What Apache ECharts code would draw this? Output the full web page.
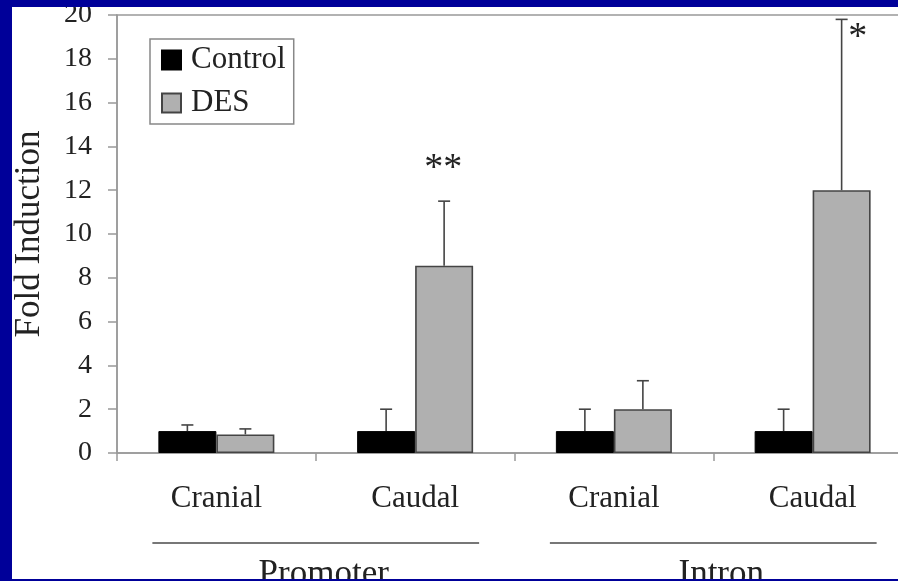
<!DOCTYPE html>
<html>
<head>
<meta charset="utf-8">
<script src="https://cdn.jsdelivr.net/npm/echarts@6/dist/echarts.min.js"></script>
<style>
  html, body { margin: 0; padding: 0; background: #000099; width: 898px; height: 581px; overflow: hidden; }
  #chart { position: absolute; left: 12px; top: 7px; width: 886px; height: 572px; background: #ffffff; }
</style>
</head>
<body>
<div id="chart"></div>
<script>
// ---- data ----
const categories = ['Cranial', 'Caudal', 'Cranial', 'Caudal'];
const groupNames = ['Promoter', 'Intron'];
const groupSpans = [[0, 1], [2, 3]];
const controlValues = [1.0, 1.0, 1.0, 1.0];
const controlErr = [0.28, 1.0, 1.0, 1.0];
const desValues = [0.85, 8.55, 2.0, 12.0];
const desErr = [0.25, 2.95, 1.3, 7.8];
const significance = ['', '**', '', '*'];
const yMin = 0, yMax = 20, yInterval = 2;

// ---- style ----
const FONT = '"Liberation Serif", "Times New Roman", serif';
const TEXT = '#222222';
const AXIS = '#999999';
const BAR_W = 58;
const sigOffsets = [[0, 0], [-1, -32], [0, 0], [16, 19]];

const chart = echarts.init(document.getElementById('chart'));

function errorSeries(name, values, errs, sign, withSig) {
  return {
    type: 'custom',
    name: name + ' err',
    silent: true,
    clip: false,
    z: 5,
    data: values.map((v, i) => [i, v, errs[i]]),
    renderItem: function (params, api) {
      const i = params.dataIndex;
      const base = api.coord([api.value(0), api.value(1)]);
      const top = api.coord([api.value(0), api.value(1) + api.value(2)]);
      const x = base[0] + sign * BAR_W / 2;
      const children = [
        { type: 'line', shape: { x1: x, y1: base[1], x2: x, y2: top[1] }, style: { stroke: '#444', lineWidth: 1.6 } },
        { type: 'line', shape: { x1: x - 6, y1: top[1], x2: x + 6, y2: top[1] }, style: { stroke: '#444', lineWidth: 1.6 } }
      ];
      if (withSig && significance[i]) {
        children.push({
          type: 'text',
          style: {
            text: significance[i], x: x + sigOffsets[i][0], y: top[1] + sigOffsets[i][1],
            fill: TEXT, font: '38px ' + FONT, align: 'center', verticalAlign: 'middle'
          }
        });
      }
      return { type: 'group', children: children };
    }
  };
}

const option = {
  animation: false,
  backgroundColor: '#ffffff',
  grid: {
    left: 105, top: 8, width: 795, height: 438,
    containLabel: false, outerBoundsMode: 'none',
    show: true, borderColor: AXIS, borderWidth: 1.5, backgroundColor: 'transparent'
  },
  legend: {
    orient: 'vertical', left: 138, top: 32,
    icon: 'rect', itemWidth: 19, itemHeight: 19, itemGap: 11,
    padding: [5, 8, 5, 11],
    borderColor: '#888', borderWidth: 1.5,
    data: ['Control', 'DES'],
    textStyle: { fontFamily: FONT, fontSize: 31, color: TEXT, lineHeight: 32, padding: [0, 0, 0, 5] }
  },
  xAxis: {
    type: 'category', data: categories,
    axisLine: { lineStyle: { color: AXIS, width: 1.5 } },
    axisTick: { show: true, length: 8, lineStyle: { color: AXIS, width: 1.5 } },
    axisLabel: { fontFamily: FONT, fontSize: 31, color: TEXT, margin: 30 },
    splitLine: { show: false }
  },
  yAxis: {
    type: 'value', min: yMin, max: yMax, interval: yInterval,
    name: 'Fold Induction', nameLocation: 'middle', nameGap: 70, nameRotate: 90,
    nameTextStyle: { fontFamily: FONT, fontSize: 35, color: TEXT },
    axisLine: { show: true, lineStyle: { color: AXIS, width: 1.5 } },
    axisTick: { show: true, length: 9, lineStyle: { color: AXIS, width: 1.5 } },
    axisLabel: { fontFamily: FONT, fontSize: 28, color: TEXT, margin: 25 },
    splitLine: { show: false }
  },
  series: [
    {
      name: 'Control', type: 'bar', data: controlValues, barWidth: BAR_W, barGap: '0%',
      itemStyle: { color: '#000000', borderColor: '#000000', borderWidth: 1 }, z: 3
    },
    {
      name: 'DES', type: 'bar', data: desValues, barWidth: BAR_W, barGap: '0%',
      itemStyle: { color: '#b0b0b0', borderColor: '#444444', borderWidth: 1.6 }, z: 3
    },
    errorSeries('Control', controlValues, controlErr, -1, false),
    errorSeries('DES', desValues, desErr, 1, true),
    {
      type: 'custom', name: 'groups', silent: true, clip: false,
      data: groupSpans.map(s => [s[0], s[1]]),
      renderItem: function (params, api) {
        const i = params.dataIndex;
        const a = api.coord([api.value(0), 0]);
        const b = api.coord([api.value(1), 0]);
        const x1 = a[0] - 64, x2 = b[0] + 64;
        const y = a[1] + 90;
        return {
          type: 'group',
          children: [
            { type: 'line', shape: { x1: x1, y1: y, x2: x2, y2: y }, style: { stroke: '#777', lineWidth: 1.8 } },
            { type: 'text', style: { text: groupNames[i], x: (x1 + x2) / 2 + 8, y: y + 14, fill: TEXT, font: '35px ' + FONT, align: 'center', verticalAlign: 'top' } }
          ]
        };
      }
    }
  ]
};
chart.setOption(option);
</script>
</body>
</html>
